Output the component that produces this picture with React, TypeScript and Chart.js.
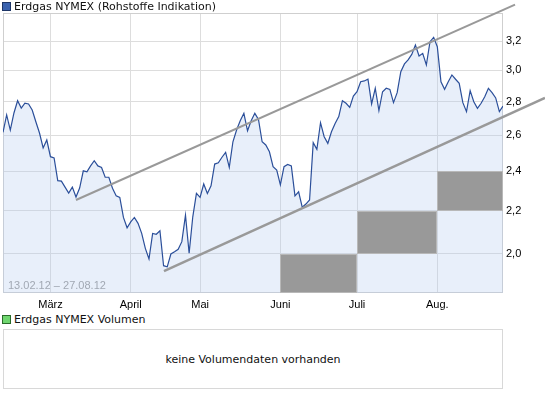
import React, { useEffect, useRef } from 'react';
import { Chart, registerables } from 'chart.js';

Chart.register(...registerables);

const FONT = '"Liberation Sans", Arial, sans-serif';
const LEGEND_FONT = '"DejaVu Sans", Verdana, sans-serif';

const seriesTitle = 'Erdgas NYMEX (Rohstoffe Indikation)';
const volumeTitle = 'Erdgas NYMEX Volumen';
const noVolumeText = 'keine Volumendaten vorhanden';
const dateRange = '13.02.12 – 27.08.12';

const prices = [
  2.616, 2.718, 2.629, 2.730, 2.805, 2.760, 2.790, 2.785, 2.748, 2.678,
  2.612, 2.527, 2.572, 2.479, 2.472, 2.351, 2.349, 2.318, 2.288, 2.318,
  2.268, 2.313, 2.403, 2.398, 2.429, 2.457, 2.429, 2.421, 2.369, 2.369,
  2.312, 2.274, 2.266, 2.168, 2.119, 2.147, 2.168, 2.140, 2.093, 2.025,
  1.978, 2.093, 2.089, 2.105, 1.949, 1.944, 2.000, 2.010, 2.021, 2.055,
  2.179, 2.003, 2.171, 2.286, 2.266, 2.334, 2.286, 2.325, 2.439, 2.446,
  2.476, 2.503, 2.421, 2.562, 2.629, 2.684, 2.728, 2.625, 2.684, 2.728,
  2.692, 2.562, 2.544, 2.506, 2.425, 2.407, 2.330, 2.425, 2.437, 2.429,
  2.274, 2.294, 2.217, 2.233, 2.253, 2.557, 2.520, 2.672, 2.591, 2.553,
  2.619, 2.668, 2.708, 2.805, 2.789, 2.764, 2.834, 2.861, 2.925, 2.930,
  2.941, 2.785, 2.883, 2.744, 2.861, 2.883, 2.876, 2.793, 2.855, 2.990,
  3.042, 3.069, 3.107, 3.172, 3.096, 3.114, 3.035, 3.195, 3.226, 3.160,
  2.925, 2.876, 2.925, 2.969, 2.941, 2.915, 2.793, 2.738, 2.868, 2.799,
  2.758, 2.789, 2.830, 2.883, 2.855, 2.822, 2.738, 2.772,
];

const monthTickIdx = [13, 35, 54, 76, 97, 119];
const monthLabels = ['März', 'April', 'Mai', 'Juni', 'Juli', 'Aug.'];
const yTickValues = [2.0, 2.2, 2.4, 2.6, 2.8, 3.0, 3.2];
const yMin = 1.835;
const yMax = 3.404;

const upperTrendX = [20, 140.3];
const upperTrendY = [2.253, 3.468];
const lowerTrendX = [44.1, 148.5];
const lowerTrendY = [1.926, 2.822];

const boxFrom = [76, 97, 119];
const boxTo = [97, 119, 137];
const boxLow = [yMin, 2.0, 2.2];
const boxHigh = [2.0, 2.2, 2.4];

const decorPlugin = {
  id: 'decor',
  beforeDraw(chart: any) {
    const { ctx, chartArea } = chart;
    ctx.save();
    ctx.fillStyle = '#999999';
    ctx.font = `11px ${FONT}`;
    ctx.textBaseline = 'middle';
    ctx.textAlign = 'left';
    ctx.fillText(dateRange, chartArea.left + 5, chartArea.bottom - 7);
    ctx.restore();
  },
  beforeDatasetsDraw(chart: any) {
    const { ctx, chartArea } = chart;
    ctx.save();
    ctx.strokeStyle = '#cfcfcf';
    ctx.lineWidth = 1;
    ctx.strokeRect(
      chartArea.left + 0.5,
      chartArea.top + 0.5,
      chartArea.right - chartArea.left - 1,
      chartArea.bottom - chartArea.top - 1
    );
    ctx.restore();
  },
  afterDatasetsDraw(chart: any) {
    const { ctx, scales } = chart;
    const xs = scales.x;
    const ys = scales.y;
    ctx.save();
    for (let i = 0; i < boxFrom.length; i++) {
      const x0 = Math.round(xs.getPixelForValue(boxFrom[i]));
      const x1 = Math.round(xs.getPixelForValue(boxTo[i]));
      const y0 = Math.round(ys.getPixelForValue(boxHigh[i]));
      const y1 = Math.round(ys.getPixelForValue(boxLow[i]));
      ctx.fillStyle = '#999999';
      ctx.fillRect(x0, y0, x1 - x0, y1 - y0);
      ctx.strokeStyle = '#b8b8b8';
      ctx.lineWidth = 1;
      ctx.strokeRect(x0 + 0.5, y0 + 0.5, x1 - x0 - 1, y1 - y0 - 1);
    }
    ctx.restore();
  },
};

function MainChart() {
  const ref = useRef<HTMLCanvasElement>(null);
  useEffect(() => {
    if (!ref.current) return;
    const chart = new Chart(ref.current, {
      type: 'line',
      data: {
        datasets: [
          {
            data: upperTrendX.map((x, i) => ({ x, y: upperTrendY[i] })),
            borderColor: '#999999',
            borderWidth: 2,
            pointRadius: 0,
            fill: false,
            clip: false as any,
          },
          {
            data: lowerTrendX.map((x, i) => ({ x, y: lowerTrendY[i] })),
            borderColor: '#999999',
            borderWidth: 2.5,
            pointRadius: 0,
            fill: false,
            clip: false as any,
          },
          {
            data: prices.map((y, i) => ({ x: i, y })),
            borderColor: '#2b4f9a',
            borderWidth: 1.2,
            pointRadius: 0,
            tension: 0,
            fill: 'start',
            backgroundColor: 'rgba(178,202,238,0.3)',
          },
        ],
      },
      plugins: [decorPlugin],
      options: {
        animation: false,
        responsive: false,
        devicePixelRatio: 1,
        layout: { padding: { left: 3, top: 13, right: 0, bottom: 0 } },
        plugins: { legend: { display: false }, tooltip: { enabled: false } },
        scales: {
          x: {
            type: 'linear',
            min: 0,
            max: prices.length - 1,
            afterBuildTicks: (s: any) => {
              s.ticks = monthTickIdx.map((v) => ({ value: v }));
            },
            afterFit: (s: any) => {
              s.height = 17;
            },
            ticks: {
              autoSkip: false,
              maxRotation: 0,
              padding: 5,
              color: '#000',
              font: { family: FONT, size: 11 },
              callback: (_v: any, i: number) => monthLabels[i],
            },
            grid: { color: '#dddddd', drawTicks: false },
            border: { display: false },
          },
          y: {
            type: 'logarithmic',
            position: 'right',
            min: yMin,
            max: yMax,
            afterBuildTicks: (s: any) => {
              s.ticks = yTickValues.map((v) => ({ value: v }));
            },
            afterFit: (s: any) => {
              s.width = 42;
            },
            ticks: {
              autoSkip: false,
              padding: 3,
              color: '#000',
              font: { family: FONT, size: 11 },
              callback: (v: any) => Number(v).toFixed(1).replace('.', ','),
            },
            grid: { color: '#dddddd', drawTicks: false },
            border: { display: false },
          },
        },
      },
    } as any);
    return () => chart.destroy();
  }, []);
  return <canvas ref={ref} width={545} height={310} style={{ display: 'block', width: 545, height: 310 }} />;
}

function Square({ fill, border, top }: { fill: string; border: string; top: number }) {
  return (
    <div
      style={{
        position: 'absolute',
        left: 2,
        top,
        width: 7,
        height: 7,
        background: fill,
        border: `1px solid ${border}`,
      }}
    />
  );
}

export default function App() {
  return (
    <div
      style={{
        position: 'absolute',
        left: 0,
        top: 0,
        width: 545,
        height: 398,
        background: '#fff',
        fontFamily: LEGEND_FONT,
        overflow: 'hidden',
      }}
    >
      <div style={{ position: 'absolute', left: 0, top: 0 }}>
        <MainChart />
      </div>
      <Square fill="#3a62ae" border="#1d3566" top={2} />
      <div style={{ position: 'absolute', left: 14, top: 0, fontSize: 11, lineHeight: '13px', color: '#111' }}>
        {seriesTitle}
      </div>
      <Square fill="#6fd66f" border="#2a6a2a" top={315} />
      <div style={{ position: 'absolute', left: 14, top: 313, fontSize: 11, lineHeight: '13px', color: '#111' }}>
        {volumeTitle}
      </div>
      <div
        style={{
          position: 'absolute',
          left: 3,
          top: 329,
          width: 498,
          height: 58,
          border: '1px solid #d8d8d8',
          display: 'flex',
          alignItems: 'center',
          justifyContent: 'center',
          fontSize: 11,
          color: '#111',
        }}
      >
        {noVolumeText}
      </div>
    </div>
  );
}
